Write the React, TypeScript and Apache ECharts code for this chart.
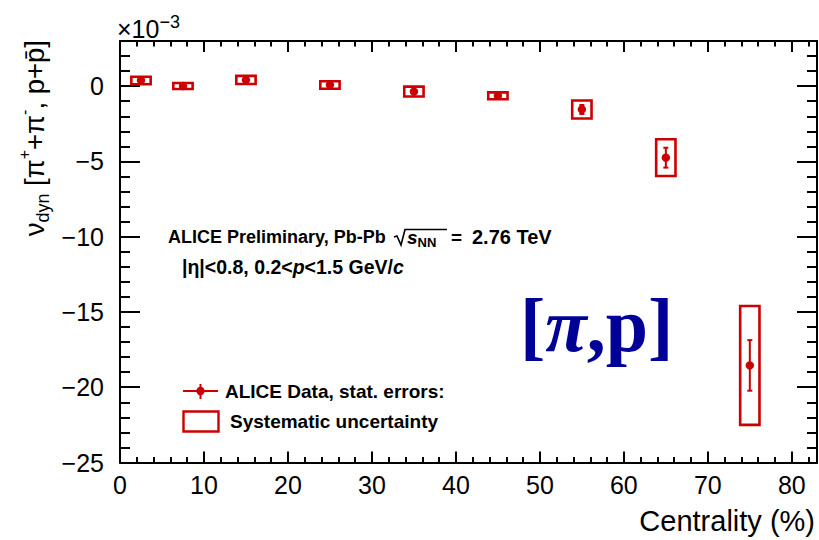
import React, { useEffect, useRef } from "react";
import * as echarts from "echarts";

// ---- data (x 10^-3) ----
const centrality = [2.5, 7.5, 15, 25, 35, 45, 55, 65, 75];
const nuDyn = [0.38, 0.01, 0.41, 0.08, -0.36, -0.64, -1.55, -4.75, -18.55];
const statErr = [0.08, 0.08, 0.08, 0.08, 0.1, 0.1, 0.3, 0.66, 1.68];
const sysErr = [0.25, 0.2, 0.27, 0.25, 0.33, 0.23, 0.6, 1.22, 3.95];
const boxHalfWidth = [1.15, 1.15, 1.15, 1.15, 1.15, 1.15, 1.15, 1.15, 1.15];
const xTickLabels = [0, 10, 20, 30, 40, 50, 60, 70, 80];
const yTickLabels = [-25, -20, -15, -10, -5, 0];

const RED = "#cc0000";
const SANS = "Liberation Sans, Arial, Helvetica, sans-serif";
const SERIF = "Liberation Serif, Times New Roman, serif";

export default function App() {
  const ref = useRef<HTMLDivElement>(null);
  useEffect(() => {
    if (!ref.current) return;
    const chart = echarts.init(ref.current, null, { renderer: "svg" });

    const fmtY = (v: number) =>
      yTickLabels.includes(v) ? (v < 0 ? "\u2212" + Math.abs(v) : String(v)) : "";
    const fmtX = (v: number) => (xTickLabels.includes(v) ? String(v) : "");

    const mkX = (pos: "top" | "bottom", interval: number, len: number, labels: boolean, line: boolean) => ({
      type: "value",
      position: pos,
      min: 0,
      max: 83,
      interval,
      axisLine: { show: line, onZero: false, lineStyle: { color: "#000", width: 2 } },
      axisTick: { show: true, inside: true, length: len, lineStyle: { color: "#000", width: 2 } },
      axisLabel: {
        show: labels,
        formatter: fmtX,
        showMaxLabel: false,
        color: "#000",
        fontFamily: SANS,
        fontSize: 25,
        margin: 10,
      },
      splitLine: { show: false },
    });
    const mkY = (pos: "left" | "right", interval: number, len: number, labels: boolean, line: boolean) => ({
      type: "value",
      position: pos,
      min: -25,
      max: 3,
      interval,
      axisLine: { show: line, onZero: false, lineStyle: { color: "#000", width: 2 } },
      axisTick: { show: true, inside: true, length: len, lineStyle: { color: "#000", width: 2 } },
      axisLabel: {
        show: labels,
        formatter: fmtY,
        showMaxLabel: false,
        color: "#000",
        fontFamily: SANS,
        fontSize: 25,
        margin: 16,
      },
      splitLine: { show: false },
    });

    const data = centrality.map((x, i) => [x, nuDyn[i], statErr[i], sysErr[i], boxHalfWidth[i]]);

    const b18 = { fontFamily: SANS, fontWeight: "bold", fontSize: 18, fill: "#000" };

    const option: any = {
      animation: false,
      grid: { left: 120, right: 2, top: 41, bottom: 77.5, containLabel: false },
      xAxis: [
        mkX("bottom", 10, 11, true, true),
        mkX("bottom", 2, 5.5, false, false),
        mkX("top", 10, 11, false, true),
        mkX("top", 2, 5.5, false, false),
      ],
      yAxis: [
        mkY("left", 5, 20, true, true),
        mkY("left", 1, 10, false, false),
        mkY("right", 5, 20, false, true),
        mkY("right", 1, 10, false, false),
      ],
      series: [
        {
          type: "custom",
          xAxisIndex: 0,
          yAxisIndex: 0,
          data,
          renderItem: (params: any, api: any) => {
            const x = api.value(0);
            const y = api.value(1);
            const st = api.value(2);
            const sy = api.value(3);
            const hw = api.value(4);
            const c = api.coord([x, y]);
            const tl = api.coord([x - hw, y + sy]);
            const br = api.coord([x + hw, y - sy]);
            const s1 = api.coord([x, y + st]);
            const s2 = api.coord([x, y - st]);
            const lineStyle = { stroke: RED, lineWidth: 2 };
            return {
              type: "group",
              children: [
                {
                  type: "rect",
                  shape: { x: tl[0], y: tl[1], width: br[0] - tl[0], height: br[1] - tl[1] },
                  style: { fill: "none", stroke: RED, lineWidth: 2.6 },
                },
                { type: "line", shape: { x1: c[0], y1: s1[1], x2: c[0], y2: s2[1] }, style: lineStyle },
                { type: "line", shape: { x1: c[0] - 2.5, y1: s1[1], x2: c[0] + 2.5, y2: s1[1] }, style: lineStyle },
                { type: "line", shape: { x1: c[0] - 2.5, y1: s2[1], x2: c[0] + 2.5, y2: s2[1] }, style: lineStyle },
                { type: "circle", shape: { cx: c[0], cy: c[1], r: 4.2 }, style: { fill: RED } },
              ],
            };
          },
        },
      ],
      graphic: [
        // exponent
        {
          type: "text",
          x: 117,
          y: 29,
          style: {
            text: "{a|\u00d710}{b|\u22123}",
            align: "left",
            verticalAlign: "middle",
            rich: {
              a: { fontFamily: SANS, fontSize: 25, lineHeight: 32, verticalAlign: "middle", fill: "#000" },
              b: { fontFamily: SANS, fontSize: 18, lineHeight: 18, verticalAlign: "top", fill: "#000" },
            },
          },
        },
        // y-axis title
        {
          type: "text",
          x: 34,
          y: 40,
          rotation: Math.PI / 2,
          style: {
            text: "{m|\u03bd}{sb|dyn}{m| [\u03c0}{sp|+}{m|+\u03c0}{sp|-}{m|, p+p\u0304]}",
            align: "right",
            verticalAlign: "middle",
            rich: {
              m: { fontFamily: SANS, fontSize: 27.5, lineHeight: 36, verticalAlign: "middle", fill: "#000" },
              sb: { fontFamily: SANS, fontSize: 18, lineHeight: 18, verticalAlign: "bottom", fill: "#000" },
              sp: { fontFamily: SANS, fontSize: 16, lineHeight: 16, verticalAlign: "top", fill: "#000" },
            },
          },
        },
        // x-axis title
        {
          type: "text",
          x: 815,
          y: 521,
          style: {
            text: "Centrality (%)",
            align: "right",
            verticalAlign: "middle",
            font: "29px " + SANS,
            fill: "#000",
          },
        },
        // annotation line 1
        {
          type: "text",
          x: 168,
          y: 237,
          style: { text: "ALICE Preliminary, Pb-Pb", align: "left", verticalAlign: "middle", font: "bold 18px " + SANS, fill: "#000" },
        },
        {
          type: "polyline",
          shape: { points: [[394, 237], [397, 236], [401, 245], [405, 229.5], [447, 229.5]] },
          style: { stroke: "#000", lineWidth: 1.6, fill: "none" },
        },
        {
          type: "text",
          x: 407,
          y: 237,
          style: {
            text: "{bi|s}{sb|NN}",
            align: "left",
            verticalAlign: "middle",
            rich: {
              bi: { ...b18, fontStyle: "italic", fontSize: 19, lineHeight: 24, verticalAlign: "middle" },
              sb: { ...b18, fontSize: 13, lineHeight: 13, verticalAlign: "bottom" },
            },
          },
        },
        {
          type: "text",
          x: 451,
          y: 237,
          style: { text: "=", align: "left", verticalAlign: "middle", font: "bold 19px " + SANS, fill: "#000" },
        },
        {
          type: "text",
          x: 472,
          y: 237,
          style: { text: "2.76 TeV", align: "left", verticalAlign: "middle", font: "bold 20px " + SANS, fill: "#000" },
        },
        // annotation line 2
        {
          type: "text",
          x: 182,
          y: 267,
          style: {
            text: "{b||\u03b7|<0.8, 0.2<}{bi|p}{b|<1.5 GeV/}{bi|c}",
            align: "left",
            verticalAlign: "middle",
            rich: {
              b: { ...b18, fontSize: 19.5, lineHeight: 24, verticalAlign: "middle" },
              bi: { ...b18, fontStyle: "italic", fontSize: 19.5, lineHeight: 24, verticalAlign: "middle" },
            },
          },
        },
        // big [pi,p]
        {
          type: "text",
          x: 520,
          y: 325,
          style: {
            text: "{a|[}{b|\u03c0}{a|,p]}",
            align: "left",
            verticalAlign: "middle",
            rich: {
              a: { fontFamily: SERIF, fontWeight: "bold", fontSize: 76, lineHeight: 84, verticalAlign: "middle", fill: "#000099" },
              b: { fontFamily: SERIF, fontWeight: "bold", fontStyle: "italic", fontSize: 76, lineHeight: 84, verticalAlign: "middle", fill: "#000099" },
            },
          },
        },
        // legend: data entry
        { type: "line", shape: { x1: 183, y1: 391, x2: 218, y2: 391 }, style: { stroke: RED, lineWidth: 2 } },
        { type: "line", shape: { x1: 200.5, y1: 384, x2: 200.5, y2: 399 }, style: { stroke: RED, lineWidth: 2 } },
        { type: "circle", shape: { cx: 200.5, cy: 391, r: 4.2 }, style: { fill: RED } },
        {
          type: "text",
          x: 225,
          y: 391,
          style: { text: "ALICE Data, stat. errors:", align: "left", verticalAlign: "middle", font: "bold 19px " + SANS, fill: "#000" },
        },
        // legend: systematic entry
        {
          type: "rect",
          shape: { x: 183.5, y: 411.5, width: 35, height: 20 },
          style: { fill: "none", stroke: RED, lineWidth: 2.4 },
        },
        {
          type: "text",
          x: 230,
          y: 421,
          style: { text: "Systematic uncertainty", align: "left", verticalAlign: "middle", font: "bold 19px " + SANS, fill: "#000" },
        },
      ],
    };
    chart.setOption(option);
    return () => chart.dispose();
  }, []);

  return (
    <div
      ref={ref}
      style={{ position: "fixed", left: 0, top: 0, width: 819, height: 540, background: "#fff" }}
    />
  );
}
